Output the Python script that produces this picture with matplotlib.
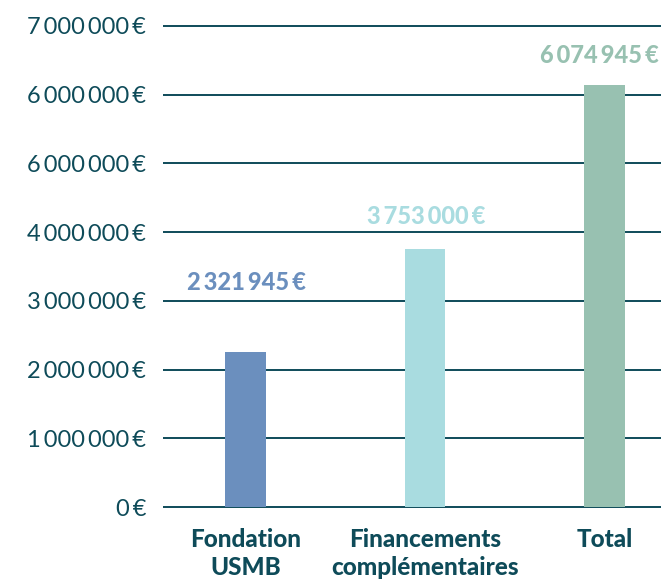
import matplotlib.pyplot as plt
from matplotlib.ticker import FixedLocator

S = '\u2009'  # thin space between digit groups

categories = ['Fondation\nUSMB', 'Financements\ncomplémentaires', 'Total']
values = [2256000, 3755000, 6140000]
value_labels = ['2' + S + '321' + S + '945' + S + '€',
                '3' + S + '753' + S + '000' + S + '€',
                '6' + S + '074' + S + '945' + S + '€']
tick_values = [0, 1000000, 2000000, 3000000, 4000000, 5000000, 6000000, 7000000]
# the source repeats "6 000 000 €" on the 5M line, kept as is
tick_labels = ['0' + S + '€'] + [d + S + '000' + S + '000' + S + '€'
                                 for d in ['1', '2', '3', '4', '6', '6', '7']]
colors = ['#6b8fbe', '#a9dce0', '#98c1b1']
label_offsets = [69, 32, 30]  # pixels above the bar top

DARK = '#0e4b59'
FONT = ['Lato', 'DejaVu Sans']

W, H = 661, 579
fig = plt.figure(figsize=(W / 100, H / 100), dpi=100)

# axis geometry in pixels: 0 at y=507, 7M at y=26, grid starts at x=163
y0, y7 = 507, 26
per = (y0 - y7) / 7e6
pad = 0.06e6
bottom_px = y0 + pad * per
top_px = y7 - pad * per
x_left = 163
ax = fig.add_axes([x_left / W, (H - bottom_px) / H, (W - x_left) / W, (bottom_px - top_px) / H])
ax.set_ylim(-pad, 7e6 + pad)
ax.set_xlim(-0.46, 2.315)

for s in ax.spines.values():
    s.set_visible(False)

ax.yaxis.set_major_locator(FixedLocator(tick_values))
ax.set_yticklabels(tick_labels, family=FONT, fontsize=17, color=DARK)
ax.tick_params(axis='y', length=0, pad=12)
ax.grid(axis='y', color=DARK, linewidth=1.4)
ax.set_axisbelow(True)

x = range(len(categories))
ax.bar(x, values, width=0.228, color=colors, zorder=3)

ax.set_xticks(list(x))
ax.set_xticklabels(categories, family=FONT, fontsize=17.5, fontweight='black',
                   color=DARK, linespacing=1.3)
ax.tick_params(axis='x', length=0, pad=12)

for i, (v, lab, c, off) in enumerate(zip(values, value_labels, colors, label_offsets)):
    ax.annotate(lab, (i, v), xytext=(-5 if i == 2 else 1, off), textcoords='offset pixels',
                ha='center', va='center', family=FONT, fontsize=17,
                fontweight='black', color=c, annotation_clip=False)

fig.savefig('out.png', dpi=100)
